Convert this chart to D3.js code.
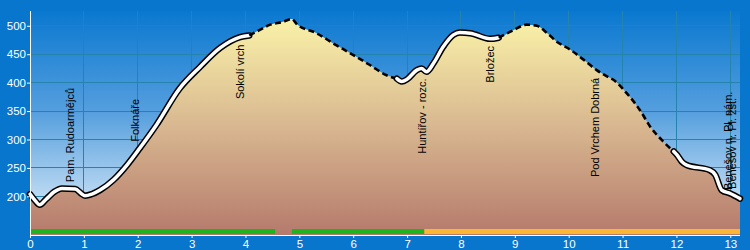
<!DOCTYPE html>
<html><head><meta charset="utf-8">
<script src="https://cdn.jsdelivr.net/npm/d3@7"></script>
<style>body{margin:0;background:#0876cd;}svg{display:block;}</style>
</head><body>
<svg id="c" width="750" height="250"></svg>
<script>
// profile data (km, elevation m)
const distKm = [0,0.1,0.18,0.3,0.45,0.59,0.84,0.95,1.02,1.15,1.3,1.55,1.8,2.04,2.35,2.78,3.16,3.53,3.9,4.07,4.25,4.46,4.7,4.86,4.95,5.32,5.63,5.94,6.31,6.62,6.81,6.9,7.0,7.18,7.27,7.36,7.49,7.67,7.86,7.98,8.17,8.54,8.7,8.97,9.22,9.41,9.6,9.78,10.03,10.28,10.52,10.71,10.83,11.08,11.32,11.51,11.76,11.95,12.01,12.1,12.19,12.62,12.72,12.84,13.0,13.18];
const elevM  = [204,192,185,195,208,214,213,205,201,204,211,229,255,285,326,390,428,461,480,483,492,502,507,512,503,487,469,452,431,413,407,402,406,422,425,419,434,463,484,488,487,477,479,492,502,500,487,472,458,440,422,411,405,381,352,323,296,279,273,261,255,246,238,211,205,196];
// line style segments
const segFrom = [0, 4.07, 6.81, 8.7, 11.95];
const segTo   = [4.07, 6.81, 8.7, 11.95, 13.18];
const segType = ["road", "path", "road", "path", "road"];
// surface bar
const barFrom = [0, 4.86, 7.32];
const barTo   = [4.55, 7.32, 13.18];
const barType = ["green", "green", "orange"];
// waypoint labels
const wpName = ["Pam. Rudoarmějců","Folknáře","Sokolí vrch","Huntířov - rozc.","Brložec","Pod Vrchem Dobrná","Benešov n. Pl. nám.","Benešov n. Pl. žst."];
const wpKm   = [0.81, 2.02, 3.97, 7.35, 8.61, 10.56, 13.03, 13.1];
const wpElev = [225, 296, 371, 275, 400, 234, 211, 213];
// axis ticks
const xTicks = [0,1,2,3,4,5,6,7,8,9,10,11,12,13];
const yTicks = [200,250,300,350,400,450,500];

const svg = d3.select("#c");
const L = 30, R = 740, T = 11, B = 235;
const x = d3.scaleLinear().domain([0, 13.18]).range([L, R]);
const y = d3.scaleLinear().domain([132, 526]).range([B, T]);

const defs = svg.append("defs");
const sky = defs.append("linearGradient").attr("id","sky").attr("gradientUnits","userSpaceOnUse")
  .attr("x1",0).attr("x2",0).attr("y1",T).attr("y2",B);
sky.append("stop").attr("offset",0).attr("stop-color","#0a78d0");
sky.append("stop").attr("offset",0.45).attr("stop-color","#559fde");
sky.append("stop").attr("offset",1).attr("stop-color","#eaf3fb");
const ter = defs.append("linearGradient").attr("id","ter").attr("gradientUnits","userSpaceOnUse")
  .attr("x1",0).attr("x2",0).attr("y1",T+8).attr("y2",B);
ter.append("stop").attr("offset",0).attr("stop-color","#faf2a8");
ter.append("stop").attr("offset",0.5).attr("stop-color","#d8b790");
ter.append("stop").attr("offset",1).attr("stop-color","#b57a6c");

svg.append("rect").attr("width",750).attr("height",250).attr("fill","#0876cd");
svg.append("rect").attr("x",L).attr("y",T).attr("width",R-L).attr("height",B-T).attr("fill","url(#sky)");

// grid
const grid = svg.append("g").attr("stroke","#2584ad").attr("stroke-width",1).attr("shape-rendering","crispEdges");
xTicks.filter(d=>d>0).forEach(d=>grid.append("line").attr("x1",x(d)).attr("x2",x(d)).attr("y1",T).attr("y2",B));
yTicks.forEach(d=>grid.append("line").attr("x1",L).attr("x2",R).attr("y1",y(d)).attr("y2",y(d)));

const pts = distKm.map((d,i)=>({k:d,e:elevM[i]}));
const area = d3.area().curve(d3.curveMonotoneX).x(d=>x(d.k)).y0(B).y1(d=>y(d.e));
svg.append("path").datum(pts).attr("d",area).attr("fill","url(#ter)");

// bar
barFrom.forEach((f,i)=>{
  svg.append("line").attr("x1",x(f)).attr("x2",x(barTo[i])).attr("y1",231.5).attr("y2",231.5)
    .attr("stroke", barType[i]==="green" ? "#1fb41f" : "#f9b733").attr("stroke-width",5);
});

// profile line
const line = d3.line().curve(d3.curveMonotoneX).x(d=>x(d.k)).y(d=>y(d.e));
segFrom.forEach((f,i)=>{
  const sub = pts.filter(p=>p.k>=f-1e-9 && p.k<=segTo[i]+1e-9);
  if (segType[i]==="road") {
    svg.append("path").datum(sub).attr("d",line).attr("fill","none").attr("stroke","#000")
      .attr("stroke-width",6.5).attr("stroke-linejoin","round").attr("stroke-linecap","round");
    svg.append("path").datum(sub).attr("d",line).attr("fill","none").attr("stroke","#fff")
      .attr("stroke-width",3.5).attr("stroke-linejoin","round").attr("stroke-linecap","round");
  } else {
    svg.append("path").datum(sub).attr("d",line).attr("fill","none").attr("stroke","#000")
      .attr("stroke-width",2.6).attr("stroke-dasharray","6,3.5");
  }
});

// labels
wpName.forEach((n,i)=>{
  svg.append("text").attr("transform",`translate(${x(wpKm[i])},${y(wpElev[i])}) rotate(-90)`)
    .attr("font-family","Liberation Sans, Arial, sans-serif").attr("font-size",11).attr("fill","#000").text(n);
});

// axes
const xa = svg.append("g").attr("transform",`translate(0,${B})`)
  .call(d3.axisBottom(x).tickValues(xTicks).tickSize(3).tickFormat(d3.format("d")));
xa.select(".domain").remove();
xa.append("line").attr("x1",L).attr("x2",R).attr("y1",0.5).attr("y2",0.5).attr("stroke","#fff");
const ya = svg.append("g").attr("transform",`translate(${L},0)`)
  .call(d3.axisLeft(y).tickValues(yTicks).tickSize(3).tickPadding(1));
ya.select(".domain").remove();
ya.append("line").attr("x1",0.5).attr("x2",0.5).attr("y1",T).attr("y2",B).attr("stroke","#fff");
[xa,ya].forEach(g=>{
  g.selectAll(".tick line").attr("stroke","#fff");
  g.selectAll("text").attr("fill","#fff").attr("font-family","Liberation Sans, Arial, sans-serif").attr("font-size",11.5);
});
xa.selectAll("text").attr("dy","0.6em");
</script>
</body></html>
